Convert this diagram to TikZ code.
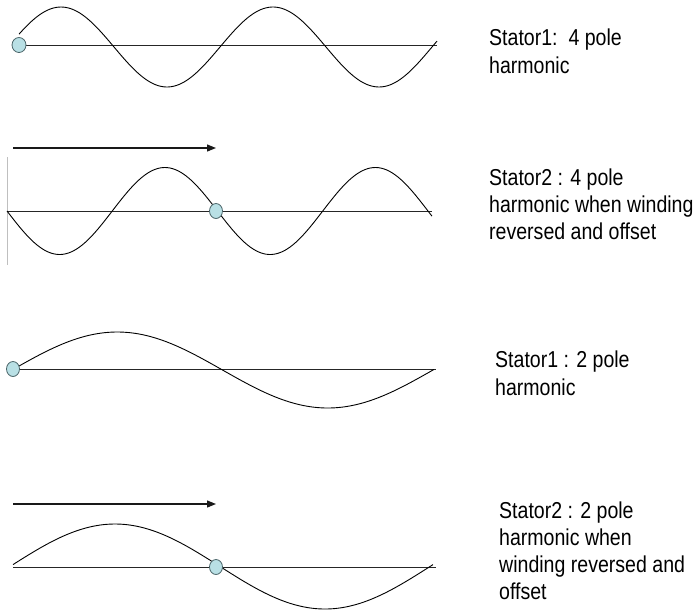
\documentclass[tikz,border=0pt]{standalone}
\usepackage{fontspec}
\usetikzlibrary{arrows.meta,shapes.geometric}
\newfontfamily\labfont[FakeStretch=0.85]{Liberation Sans}
\definecolor{dotfill}{HTML}{B9E0E5}
\definecolor{dotedge}{HTML}{4A6468}
\begin{document}
\begin{tikzpicture}[x=1pt,y=-1pt,
  wave/.style={black,line width=0.9pt},
  axisline/.style={black!85,line width=1pt},
  dot/.style={ellipse,draw=dotedge,fill=dotfill,line width=0.8pt,minimum width=13pt,minimum height=15pt,inner sep=0pt},
  moveto/.style={black!90,line width=1.2pt,-{Triangle[length=9pt,width=7pt]}},
  lab/.style={anchor=base west,align=left,inner sep=0pt,font=\labfont\fontsize{23pt}{#1}\selectfont},
  lab/.default=27pt]
\useasboundingbox (0,0) rectangle (698,611);
% ---------- panel 1 ----------
\coordinate (a1s) at (19,45);
\coordinate (a1e) at (437,45);
\draw[axisline] (a1s) -- (a1e);
\draw[wave] plot[domain=19:437,samples=160,smooth] (\x,{47-40*sin((\x-8)/212*360)});
\node[dot,minimum width=14pt] (d1) at (a1s) {};
\node[lab=28pt] (t1) at (489,73) {Stator1:\ \ 4 pole\\harmonic};
% ---------- panel 2 ----------
\coordinate (r1s) at (13,148);
\coordinate (r1e) at (216,148);
\draw[moveto] (r1s) -- (r1e);
\coordinate (v2t) at (7.5,157);
\coordinate (v2b) at (7.5,265);
\draw[black!25,line width=1.4pt] (v2t) -- (v2b);
\coordinate (a2s) at (7,211);
\coordinate (a2e) at (432,211);
\draw[axisline] (a2s) -- (a2e);
\draw[wave] plot[domain=7:432,samples=160,smooth] (\x,{211+43.5*sin((\x-7)/210.5*360)});
\node[dot] (d2) at (216,211) {};
\node[lab=27pt] (t2) at (489,239) {Stator2 : 4 pole\\harmonic when winding\\reversed and offset};
% ---------- panel 3 ----------
\coordinate (a3s) at (13,369);
\coordinate (a3e) at (436,369);
\draw[axisline] (a3s) -- (a3e);
\draw[wave] plot[domain=19:434,samples=160,smooth] (\x,{370-38*sin((\x-12)/421*360)});
\node[dot] (d3) at (a3s) {};
\node[lab=28pt] (t3) at (495,395) {Stator1 : 2 pole\\harmonic};
% ---------- panel 4 ----------
\coordinate (r2s) at (13,504);
\coordinate (r2e) at (216,504);
\draw[moveto] (r2s) -- (r2e);
\coordinate (a4s) at (13,567);
\coordinate (a4e) at (436,567);
\draw[axisline] (a4s) -- (a4e);
\draw[wave] plot[domain=13:433,samples=160,smooth] (\x,{566.5-42.5*sin((\x-10)/420*360)});
\node[dot] (d4) at (216,567) {};
\node[lab=27pt] (t4) at (499,599) {Stator2 : 2 pole\\harmonic when\\winding reversed and\\offset};
\end{tikzpicture}
\end{document}
